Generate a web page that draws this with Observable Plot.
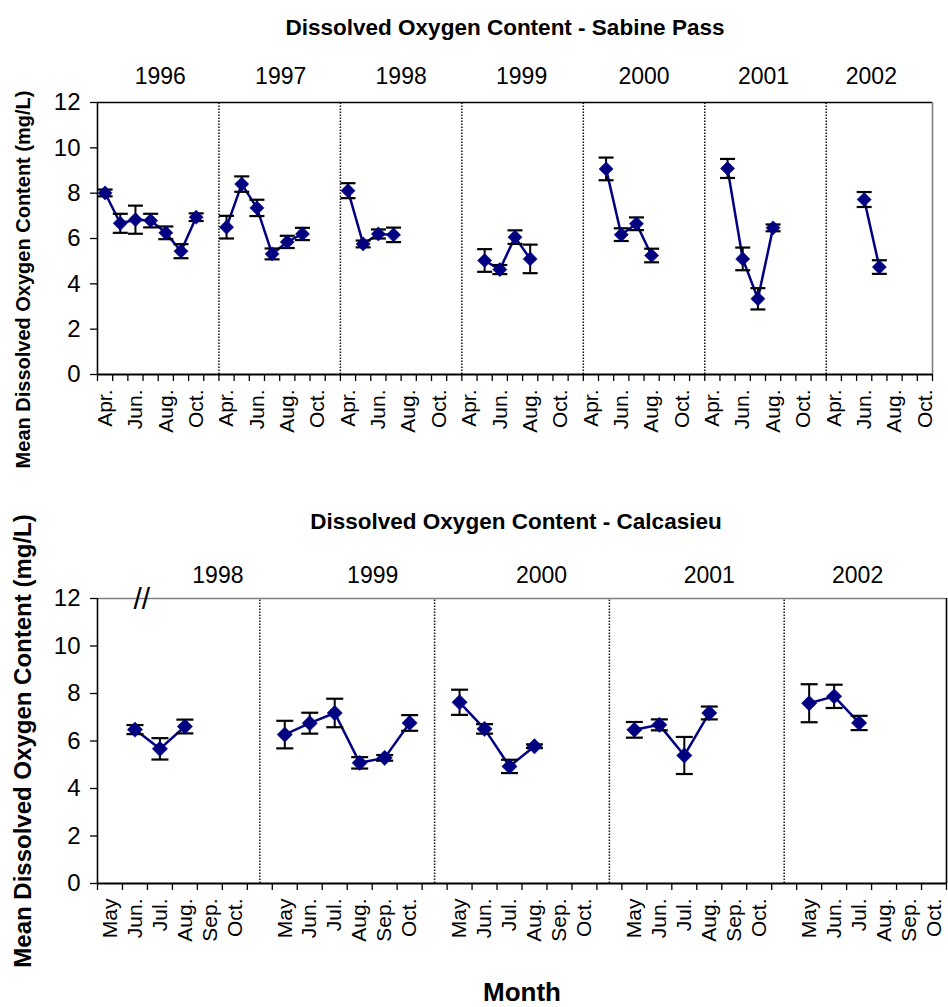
<!DOCTYPE html>
<html>
<head>
<meta charset="utf-8">
<script src="https://cdn.jsdelivr.net/npm/d3@7"></script>
<script src="https://cdn.jsdelivr.net/npm/@observablehq/plot@0.6"></script>
<style>
  body { margin: 0; background: #fff; }
  #chart { width: 948px; height: 1007px; }
  #chart svg { display: block; }
</style>
</head>
<body>
<div id="chart"></div>
<script>
// ---- Sabine Pass: monthly mean dissolved oxygen (mg/L) and error-bar half widths ----
const sabineYears = [1996, 1997, 1998, 1999, 2000, 2001, 2002];
const sabineMonths = ["Apr.", "May", "Jun.", "Jul.", "Aug.", "Sep.", "Oct."];
const sabineMonthLabels = ["Apr.", "Jun.", "Aug.", "Oct."];
const sabineYear = [
  1996, 1996, 1996, 1996, 1996, 1996, 1996,
  1997, 1997, 1997, 1997, 1997, 1997,
  1998, 1998, 1998, 1998,
  1999, 1999, 1999, 1999,
  2000, 2000, 2000, 2000,
  2001, 2001, 2001, 2001,
  2002, 2002
];
const sabineMonth = [
  "Apr.", "May", "Jun.", "Jul.", "Aug.", "Sep.", "Oct.",
  "Apr.", "May", "Jun.", "Jul.", "Aug.", "Sep.",
  "Apr.", "May", "Jun.", "Jul.",
  "May", "Jun.", "Jul.", "Aug.",
  "May", "Jun.", "Jul.", "Aug.",
  "May", "Jun.", "Jul.", "Aug.",
  "Jun.", "Jul."
];
const sabineMean = [
  8.01, 6.67, 6.83, 6.79, 6.25, 5.44, 6.94,
  6.50, 8.40, 7.35, 5.32, 5.85, 6.20,
  8.11, 5.76, 6.20, 6.16,
  5.03, 4.63, 6.06, 5.10,
  9.07, 6.17, 6.65, 5.25,
  9.09, 5.10, 3.34, 6.47,
  7.72, 4.74
];
const sabineErr = [
  0.15, 0.42, 0.62, 0.30, 0.28, 0.31, 0.17,
  0.50, 0.34, 0.36, 0.24, 0.27, 0.27,
  0.33, 0.15, 0.20, 0.32,
  0.50, 0.20, 0.30, 0.63,
  0.50, 0.28, 0.28, 0.30,
  0.42, 0.50, 0.47, 0.15,
  0.33, 0.30
];

// ---- Calcasieu ----
const calcYears = [1998, 1999, 2000, 2001, 2002];
const calcMonths = ["May", "Jun.", "Jul.", "Aug.", "Sep.", "Oct."];
const calcMonthLabels = ["May", "Jun.", "Jul.", "Aug.", "Sep.", "Oct."];
const calcYear = [
  1998, 1998, 1998,
  1999, 1999, 1999, 1999, 1999, 1999,
  2000, 2000, 2000, 2000,
  2001, 2001, 2001, 2001,
  2002, 2002, 2002
];
const calcMonth = [
  "Jun.", "Jul.", "Aug.",
  "May", "Jun.", "Jul.", "Aug.", "Sep.", "Oct.",
  "May", "Jun.", "Jul.", "Aug.",
  "May", "Jun.", "Jul.", "Aug.",
  "May", "Jun.", "Jul."
];
const calcMean = [
  6.48, 5.67, 6.61,
  6.27, 6.75, 7.18, 5.08, 5.29, 6.76,
  7.63, 6.51, 4.93, 5.78,
  6.47, 6.68, 5.39, 7.18,
  7.59, 7.88, 6.76
];
const calcErr = [
  0.19, 0.45, 0.29,
  0.58, 0.44, 0.60, 0.24, 0.12, 0.33,
  0.53, 0.20, 0.28, 0.08,
  0.33, 0.23, 0.78, 0.27,
  0.80, 0.49, 0.30
];

const yTicks = [0, 2, 4, 6, 8, 10, 12];

// ---- styling ----
const NAVY = "#000080";
const FONT = "'Liberation Sans', Arial, Helvetica, sans-serif";

// horizontal error-bar cap drawn as a custom symbol
const capSymbol = (w) => ({
  draw(ctx) { ctx.moveTo(-w / 2, 0); ctx.lineTo(w / 2, 0); }
});

function panel(cfg) {
  const per = cfg.months.length + 1;              // months plus one empty slot between years
  const last = cfg.years.length - 1;
  const xMax = last * per + cfg.lastYearSlots;
  const pos = (yr, m) => cfg.years.indexOf(yr) * per + cfg.months.indexOf(m) + 0.5;

  const rows = cfg.mean.map((v, i) => ({
    year: cfg.year[i],
    x: pos(cfg.year[i], cfg.month[i]),
    mean: v,
    lo: v - cfg.err[i],
    hi: v + cfg.err[i]
  }));
  const monthRows = cfg.years.flatMap((yr) =>
    cfg.monthLabels.map((m) => ({x: pos(yr, m), text: m}))
  );
  const bounds = d3.range(0, xMax + 1);
  const dividers = cfg.years.slice(1).map((_, i) => (i + 1) * per + cfg.dividerShift);
  const segCenter = (i) => (i * per + (i === last ? xMax : i * per + per)) / 2;

  const yearMarks = cfg.years.map((yr, i) =>
    Plot.text([{x: segCenter(i), y: 12, text: String(yr)}], {
      x: "x", y: "y", text: "text",
      dx: cfg.yearNudge[i], dy: cfg.yearDy,
      fontSize: 23, lineAnchor: "middle", fill: "black"
    })
  );

  return Plot.plot({
    width: 948,
    height: cfg.height,
    marginLeft: 97,
    marginRight: cfg.marginRight,
    marginTop: cfg.marginTop,
    marginBottom: cfg.marginBottom,
    style: {fontFamily: FONT, fontSize: "22px", color: "black", background: "white", overflow: "visible"},
    x: {domain: [0, xMax], axis: null},
    y: {domain: [0, 12], axis: null},
    marks: [
      // dotted year dividers
      Plot.ruleX(dividers, {x: (d) => d, y1: 0, y2: 12, stroke: "#111", strokeWidth: 1.5, strokeDasharray: "1.5 1.5"}),
      // frame
      Plot.ruleY([12], {stroke: cfg.topBorder, strokeWidth: 1.6}),
      Plot.ruleX([xMax], {y1: 0, y2: 12, stroke: cfg.rightBorder, strokeWidth: 1.6}),
      Plot.ruleX([0], {y1: 0, y2: 12, stroke: "black", strokeWidth: 1.6}),
      Plot.ruleY([0], {stroke: "black", strokeWidth: 2}),
      // category tick marks
      Plot.ruleX(bounds, {x: (d) => d, y1: 0, y2: 0, insetBottom: -7, stroke: "black", strokeWidth: 1.3}),
      // y axis ticks and labels
      Plot.ruleY(yTicks, {y: (d) => d, x1: 0, x2: 0, insetLeft: -7, stroke: "black", strokeWidth: 1.3}),
      Plot.text(yTicks, {
        x: () => 0, y: (d) => d, text: (d) => String(d),
        textAnchor: "end", lineAnchor: "middle", dx: -17, fontSize: cfg.tickSize, fill: "black"
      }),
      // month labels
      Plot.text(monthRows, {
        x: "x", y: () => 0, text: "text", rotate: -90,
        textAnchor: "end", lineAnchor: "middle", dy: cfg.monthDy, fontSize: 21, fill: "black"
      }),
      ...yearMarks,
      // data
      Plot.line(rows, {x: "x", y: "mean", z: "year", stroke: NAVY, strokeWidth: 2.5}),
      Plot.ruleX(rows, {x: "x", y1: "lo", y2: "hi", stroke: "black", strokeWidth: 2}),
      Plot.dot(rows, {x: "x", y: "lo", symbol: capSymbol(cfg.capWidth), fill: "none", stroke: "black", strokeWidth: 2.2}),
      Plot.dot(rows, {x: "x", y: "hi", symbol: capSymbol(cfg.capWidth), fill: "none", stroke: "black", strokeWidth: 2.2}),
      Plot.dot(rows, {x: "x", y: "mean", symbol: d3.symbolDiamond2, r: cfg.diamondR, fill: NAVY, stroke: NAVY, strokeWidth: 0.5}),
      // titles
      Plot.text([cfg.title], {
        frameAnchor: "top", dx: cfg.titleDx, dy: cfg.titleDy,
        fontSize: 22.5, fontWeight: "bold", lineAnchor: "middle", fill: "black"
      }),
      Plot.text(["Mean Dissolved Oxygen Content (mg/L)"], {
        frameAnchor: "left", rotate: -90, dx: -74, dy: cfg.yLabelDy,
        fontSize: cfg.yLabelSize, fontWeight: "bold", textAnchor: "middle", lineAnchor: "middle", fill: "black"
      }),
      ...(cfg.extra || [])
    ]
  });
}

const sabinePlot = panel({
  years: sabineYears, months: sabineMonths, monthLabels: sabineMonthLabels,
  year: sabineYear, month: sabineMonth, mean: sabineMean, err: sabineErr,
  lastYearSlots: 7, dividerShift: 0,
  height: 470, marginTop: 102, marginBottom: 96, marginRight: 16,
  topBorder: "black", rightBorder: "#808080",
  yearNudge: [2, 1, 0, -1, 0, -2, -8], yearDy: -26,
  monthDy: 15, capWidth: 15, diamondR: 6.4, tickSize: 24,
  title: "Dissolved Oxygen Content - Sabine Pass", titleDx: -10, titleDy: -74.5,
  yLabelSize: 20, yLabelDy: 41
});

const calcPlot = panel({
  years: calcYears, months: calcMonths, monthLabels: calcMonthLabels,
  year: calcYear, month: calcMonth, mean: calcMean, err: calcErr,
  lastYearSlots: 6, dividerShift: -0.5,
  height: 537, marginTop: 128, marginBottom: 124, marginRight: 2,
  topBorder: "#808080", rightBorder: "black",
  yearNudge: [33, 13, 7, 0, -14], yearDy: -23,
  monthDy: 15, capWidth: 17, diamondR: 6.9, tickSize: 24,
  title: "Dissolved Oxygen Content - Calcasieu", titleDx: -6, titleDy: -77,
  yLabelSize: 24, yLabelDy: 0,
  extra: [
    // axis break mark
    Plot.text(["//"], {frameAnchor: "top-left", dx: 36, dy: 1, fontSize: 30, lineAnchor: "middle", fill: "black"}),
    Plot.text(["Month"], {frameAnchor: "bottom", dx: 0, dy: 109, fontSize: 26, fontWeight: "bold", lineAnchor: "middle", fill: "black"})
  ]
});

document.getElementById("chart").append(sabinePlot, calcPlot);
</script>
</body>
</html>
